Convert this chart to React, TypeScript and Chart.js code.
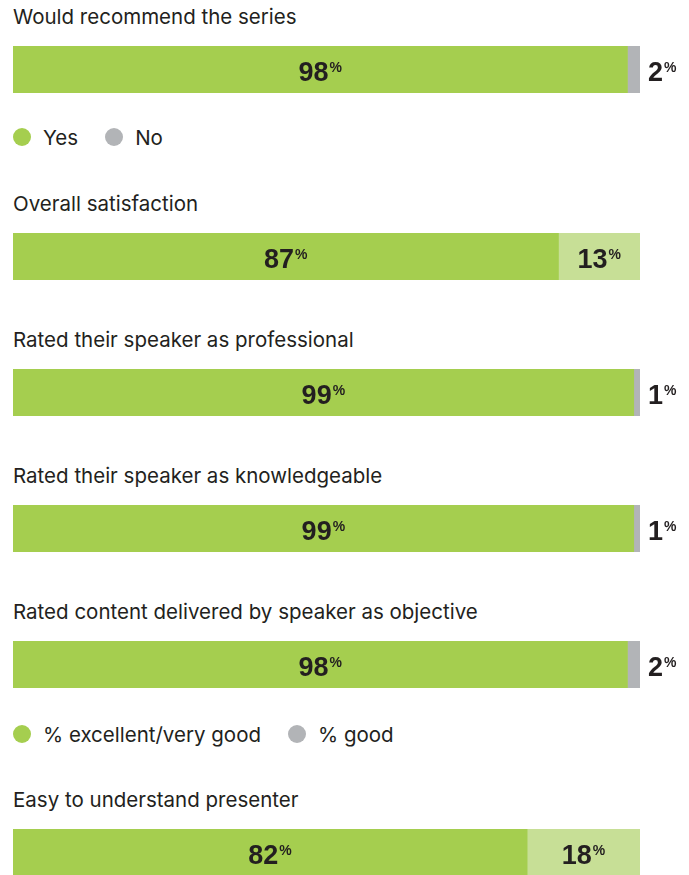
import React, { useEffect, useRef } from "react";
import { Chart, registerables } from "chart.js";

Chart.register(...registerables);

// ---- data ----
const questions = [
  "Would recommend the series",
  "Overall satisfaction",
  "Rated their speaker as professional",
  "Rated their speaker as knowledgeable",
  "Rated content delivered by speaker as objective",
  "Easy to understand presenter",
];
const mainValues = [98, 87, 99, 99, 98, 82];
const restValues = [2, 13, 1, 1, 2, 18];
const legendRecommend = ["Yes", "No"];
const legendRating = ["% excellent/very good", "% good"];

// ---- styles ----
const GREEN = "#a5ce4f";
const LIGHT = "#c7df96";
const GRAY = "#b2b4b7";
const TEXT = "#231f20";
const restColorKind = ["gray", "light", "gray", "gray", "gray", "light"];
const barTops = [46, 233, 369, 505, 641, 829];
const BAR_H = 47;
const W = 689;
const TITLE_FONT = "Inter, 'Noto Sans', sans-serif";
const NUM_FONT = "'Liberation Sans', Arial, sans-serif";

const labelPlugin = {
  id: "segLabels",
  afterDatasetsDraw(chart: any) {
    const ctx = chart.ctx as CanvasRenderingContext2D;
    ctx.save();
    ctx.fillStyle = TEXT;
    ctx.textBaseline = "alphabetic";
    ctx.textAlign = "left";
    chart.data.datasets.forEach((ds: any, di: number) => {
      const meta = chart.getDatasetMeta(di);
      meta.data.forEach((el: any, i: number) => {
        const v = ds.data[i] as number;
        const left = Math.min(el.x, el.base);
        const right = Math.max(el.x, el.base);
        const cy = el.y;
        const num = String(v);
        ctx.font = `bold 27px ${NUM_FONT}`;
        const nw = ctx.measureText(num).width;
        ctx.font = `bold 14px ${NUM_FONT}`;
        const pw = ctx.measureText("%").width;
        const total = nw + pw + 1;
        let x0: number;
        if (v < 5) {
          x0 = right + 8;
        } else {
          x0 = (left + right) / 2 - total / 2;
        }
        const base = cy + 11;
        ctx.font = `bold 27px ${NUM_FONT}`;
        ctx.fillText(num, x0, base);
        ctx.font = `bold 14px ${NUM_FONT}`;
        ctx.fillText("%", x0 + nw + 1, base - 9);
      });
    });
    ctx.restore();
  },
};

function BarRow({ index }: { index: number }) {
  const ref = useRef<HTMLCanvasElement | null>(null);
  useEffect(() => {
    if (!ref.current) return;
    const restColor = restColorKind[index] === "light" ? LIGHT : GRAY;
    const chart = new Chart(ref.current, {
      type: "bar",
      data: {
        labels: [questions[index]],
        datasets: [
          { data: [mainValues[index]], backgroundColor: GREEN, borderWidth: 0 },
          { data: [restValues[index]], backgroundColor: restColor, borderWidth: 0 },
        ],
      },
      options: {
        indexAxis: "y",
        responsive: false,
        animation: false,
        layout: { padding: { left: 13, right: W - 640, top: 0, bottom: 0 } },
        datasets: { bar: { barPercentage: 1, categoryPercentage: 1 } } as any,
        scales: {
          x: { stacked: true, min: 0, max: 100, display: false },
          y: { stacked: true, display: false },
        },
        plugins: { legend: { display: false }, tooltip: { enabled: false } },
      },
      plugins: [labelPlugin],
    });
    return () => chart.destroy();
  }, [index]);
  return (
    <canvas
      ref={ref}
      width={W}
      height={BAR_H}
      style={{ position: "absolute", left: 0, top: barTops[index], width: W, height: BAR_H, display: "block" }}
    />
  );
}

function Legend({ items, top }: { items: string[]; top: number }) {
  const colors = [GREEN, GRAY];
  return (
    <div
      style={{
        position: "absolute",
        left: 13,
        top: top - 12,
        height: 24,
        display: "flex",
        alignItems: "center",
        fontFamily: TITLE_FONT,
        fontSize: 20.5,
        color: TEXT,
      }}
    >
      {items.map((t, i) => (
        <div key={t} style={{ display: "flex", alignItems: "center", marginRight: 27 }}>
          <span
            style={{
              width: 18,
              height: 18,
              borderRadius: 9,
              background: colors[i],
              display: "inline-block",
              marginRight: 12,
            }}
          />
          <span>{t}</span>
        </div>
      ))}
    </div>
  );
}

export default function App() {
  return (
    <div
      style={{
        position: "absolute",
        left: 0,
        top: 0,
        width: W,
        height: 875,
        overflow: "hidden",
        background: "#ffffff",
      }}
    >
      {questions.map((q, i) => (
        <div
          key={q}
          style={{
            position: "absolute",
            left: 13,
            top: barTops[i] - 41,
            fontFamily: TITLE_FONT,
            fontSize: 20.5,
            lineHeight: "24px",
            color: TEXT,
            whiteSpace: "nowrap",
          }}
        >
          {q}
        </div>
      ))}
      {questions.map((q, i) => (
        <BarRow key={"b" + i} index={i} />
      ))}
      <Legend items={legendRecommend} top={137} />
      <Legend items={legendRating} top={734} />
    </div>
  );
}
